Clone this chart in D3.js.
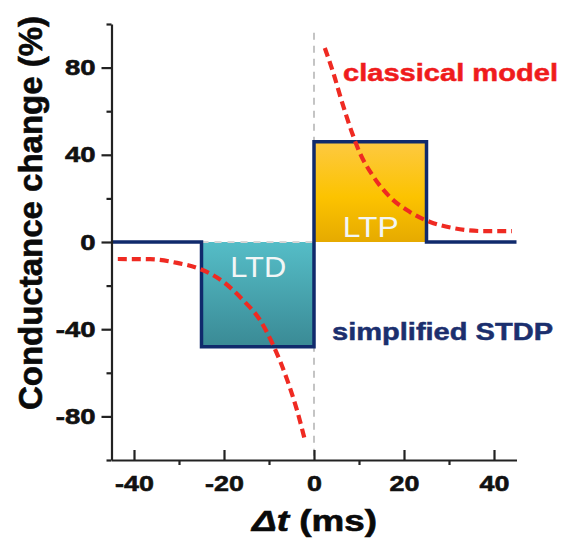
<!DOCTYPE html>
<html>
<head>
<meta charset="utf-8">
<script src="https://cdn.jsdelivr.net/npm/d3@7"></script>
<style>
 body { margin: 0; background: #fff; }
 svg { font-family: "Liberation Sans", Arial, sans-serif; }
</style>
</head>
<body>
<script>
var width = 569, height = 542;

// axis ticks
var xTicksMajor = [-40, -20, 0, 20, 40];
var xTicksMinor = [-30, -10, 10, 30];
var yTicksMajor = [-80, -40, 0, 40, 80];
var yTicksMinor = [-100, -60, -20, 20, 60, 100];

// simplified STDP (step)
var stdpX = [-45, -25, -25, 0, 0, 25, 25, 45];
var stdpY = [0, 0, -48, -48, 46, 46, 0, 0];

// LTD / LTP windows
var windowLabel = ["LTD", "LTP"];
var windowStart = [-25, 0];
var windowEnd = [0, 25];
var windowAmp = [-48, 46];

// classical model
var ltdCurveX = [-43.6, -36.4, -30.4, -25.3, -20.2, -15.8, -12, -9.1, -6, -3.8, -2];
var ltdCurveY = [-7.8, -7.9, -9.6, -12.4, -18.2, -26.6, -35.8, -47.2, -63, -77, -91];
var ltpCurveX = [2.4, 4.3, 6.1, 8.3, 10.2, 13.2, 16.9, 21.3, 25.8, 30.9, 37.6, 44];
var ltpCurveY = [89, 77.5, 65, 51, 40.8, 30, 20.6, 13.8, 9.2, 6.4, 5, 5];

var svg = d3.select('body').append('svg').attr('width', width).attr('height', height);

var x = d3.scaleLinear().domain([-45, 45]).range([111.5, 516.5]);
var y = d3.scaleLinear().domain([-100, 100]).range([460, 24]);

// gradients
var defs = svg.append('defs');
var gLtd = defs.append('linearGradient').attr('id', 'gLTD').attr('x1', 0).attr('y1', 0).attr('x2', 0).attr('y2', 1);
gLtd.append('stop').attr('offset', '0%').attr('stop-color', '#55bdc7');
gLtd.append('stop').attr('offset', '100%').attr('stop-color', '#3a8a95');
var gLtp = defs.append('linearGradient').attr('id', 'gLTP').attr('x1', 0).attr('y1', 0).attr('x2', 0).attr('y2', 1);
gLtp.append('stop').attr('offset', '0%').attr('stop-color', '#fdc942');
gLtp.append('stop').attr('offset', '55%').attr('stop-color', '#fcc300');
gLtp.append('stop').attr('offset', '100%').attr('stop-color', '#e6aa00');

// boxes
svg.selectAll('rect.win')
 .data(windowLabel)
 .join('rect')
 .attr('class', 'win')
 .attr('x', function(d, i) { return x(windowStart[i]); })
 .attr('width', function(d, i) { return x(windowEnd[i]) - x(windowStart[i]); })
 .attr('y', function(d, i) { return y(Math.max(0, windowAmp[i])); })
 .attr('height', function(d, i) { return Math.abs(y(windowAmp[i]) - y(0)); })
 .attr('fill', function(d, i) { return i == 0 ? 'url(#gLTD)' : 'url(#gLTP)'; });

// gray guides
svg.append('line')
 .attr('x1', x(0)).attr('x2', x(0)).attr('y1', y(96)).attr('y2', y(-100))
 .attr('stroke', '#c4c4c4').attr('stroke-width', 2).attr('stroke-dasharray', '7,6');
svg.append('line')
 .attr('x1', x(-25)).attr('x2', x(0)).attr('y1', y(0)).attr('y2', y(0))
 .attr('stroke', '#d6d6d6').attr('stroke-width', 2).attr('stroke-dasharray', '7,6');

// box labels
svg.selectAll('text.win')
 .data(windowLabel)
 .join('text')
 .attr('class', 'win')
 .attr('x', function(d, i) { return x((windowStart[i] + windowEnd[i]) / 2) + 0.5; })
 .attr('y', function(d, i) { return i == 0 ? y(-16) : y(2.3); })
 .attr('text-anchor', 'middle')
 .attr('font-size', 29)
 .attr('textLength', 56)
 .attr('lengthAdjust', 'spacingAndGlyphs')
 .attr('fill', '#f2f6f6')
 .text(function(d) { return d; });

// simplified STDP step line
var stdp = stdpX.map(function(d, i) { return [d, stdpY[i]]; });
svg.append('path')
 .datum(stdp)
 .attr('fill', 'none')
 .attr('stroke', '#102a6c')
 .attr('stroke-width', 3.5)
 .attr('stroke-linejoin', 'miter')
 .attr('d', d3.line().x(function(d) { return x(d[0]); }).y(function(d) { return y(d[1]); }));

// classical model curves
var curveLine = d3.line()
 .x(function(d) { return x(d[0]); })
 .y(function(d) { return y(d[1]); })
 .curve(d3.curveMonotoneX);
[[ltdCurveX, ltdCurveY], [ltpCurveX, ltpCurveY]].forEach(function(c) {
 svg.append('path')
 .datum(c[0].map(function(d, i) { return [d, c[1][i]]; }))
 .attr('fill', 'none')
 .attr('stroke', '#ef2a22')
 .attr('stroke-width', 4.2)
 .attr('stroke-dasharray', '9,5')
 .attr('d', curveLine);
});

// axes
var axisColor = '#222';
var xAxis = svg.append('g').attr('transform', 'translate(0,' + y(-100) + ')')
 .call(d3.axisBottom(x).tickValues(xTicksMajor).tickSize(-10).tickSizeOuter(0).tickPadding(15)
 .tickFormat(function(d) { return d; }));
svg.append('g').attr('transform', 'translate(0,' + y(-100) + ')')
 .call(d3.axisBottom(x).tickValues(xTicksMinor).tickSize(5).tickFormat(''))
 .call(function(g) { g.select('.domain').remove(); });

var yAxis = svg.append('g').attr('transform', 'translate(' + x(-45) + ',0)')
 .call(d3.axisLeft(y).tickValues(yTicksMajor).tickSize(10).tickSizeOuter(0).tickPadding(6)
 .tickFormat(function(d) { return d; }));
svg.append('g').attr('transform', 'translate(' + x(-45) + ',0)')
 .call(d3.axisLeft(y).tickValues(yTicksMinor).tickSize(5).tickFormat(''))
 .call(function(g) { g.select('.domain').remove(); });

svg.selectAll('.domain, .tick line').attr('stroke', axisColor).attr('stroke-width', 2.2);
svg.selectAll('.tick text')
 .attr('font-family', '"Liberation Sans", Arial, sans-serif')
 .attr('font-size', 22).attr('font-weight', 'bold').attr('fill', '#111')
 .attr('stroke', '#111').attr('stroke-width', 0.6);
xAxis.selectAll('.tick text').attr('transform', 'scale(1.22,1)');
yAxis.selectAll('.tick text').attr('x', -16 / 1.25).attr('transform', 'scale(1.25,1)');

// axis titles
svg.append('text')
 .attr('transform', 'translate(42,213) rotate(-90)')
 .attr('text-anchor', 'middle')
 .attr('font-size', 33).attr('font-weight', 'bold').attr('fill', '#0a0a0a')
 .attr('stroke', '#0a0a0a').attr('stroke-width', 0.6)
 .text('Conductance change (%)');

var xt = svg.append('text')
 .attr('x', 252).attr('y', 531)
 .attr('font-size', 30).attr('font-weight', 'bold').attr('fill', '#0a0a0a')
 .attr('stroke', '#0a0a0a').attr('stroke-width', 0.6)
 .attr('textLength', 125).attr('lengthAdjust', 'spacingAndGlyphs');
xt.append('tspan').attr('font-style', 'italic').text('\u0394t');
xt.append('tspan').text(' (ms)');

// annotations
svg.append('text')
 .attr('x', 343).attr('y', 81)
 .attr('font-size', 24).attr('font-weight', 'bold').attr('fill', '#ef1c1c')
 .attr('stroke', '#ef1c1c').attr('stroke-width', 0.5)
 .attr('textLength', 215).attr('lengthAdjust', 'spacingAndGlyphs')
 .text('classical model');
svg.append('text')
 .attr('x', 332).attr('y', 340)
 .attr('font-size', 24).attr('font-weight', 'bold').attr('fill', '#1b2f6e')
 .attr('stroke', '#1b2f6e').attr('stroke-width', 0.5)
 .attr('textLength', 221).attr('lengthAdjust', 'spacingAndGlyphs')
 .text('simplified STDP');
</script>
</body>
</html>
